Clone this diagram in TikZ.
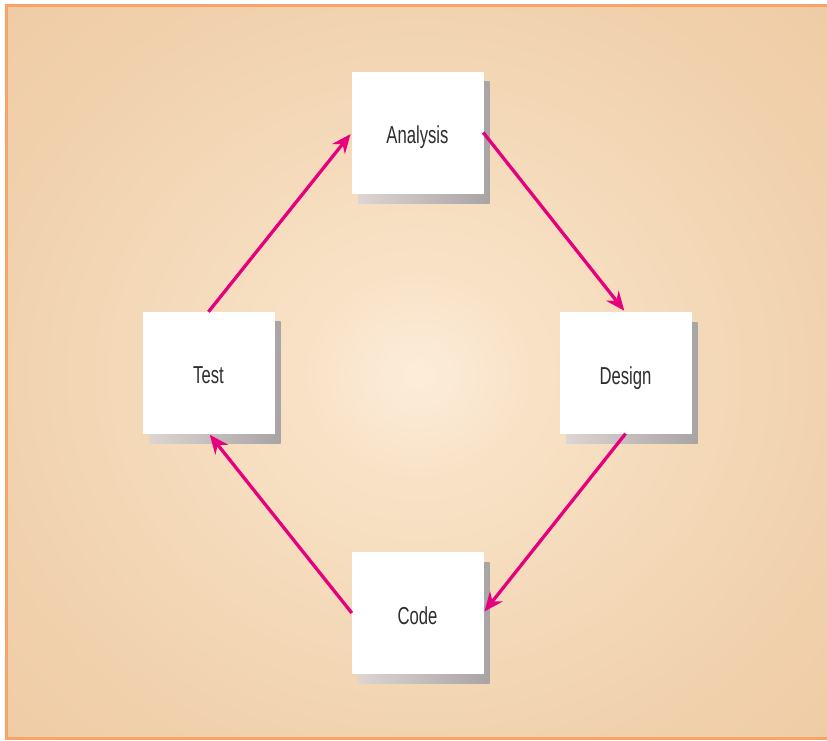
\documentclass[tikz,border=0pt]{standalone}
\usepackage{fontspec}
\setmainfont{Liberation Sans}
\usetikzlibrary{arrows.meta}
\definecolor{bgA}{HTML}{FCEDDA}
\definecolor{bgB}{HTML}{F8E2C6}
\definecolor{bgC}{HTML}{F1D2AE}
\definecolor{bgE}{HTML}{EAC398}
\definecolor{bgD}{HTML}{E2B483}
\definecolor{framec}{HTML}{F7A36A}
\definecolor{shL}{HTML}{DCD5D2}
\definecolor{shR}{HTML}{A8A4A4}
\definecolor{mag}{HTML}{E6007E}
\definecolor{txt}{HTML}{2E2E2E}
\pgfdeclareradialshading{bgshade}{\pgfpoint{0bp}{0bp}}{color(0bp)=(bgA); color(5bp)=(bgB); color(18bp)=(bgC); color(35bp)=(bgE); color(50bp)=(bgD)}
\pgfdeclarelayer{bglayer}
\pgfdeclarelayer{shlayer}
\pgfsetlayers{bglayer,shlayer,main}
\newcommand{\boxtext}[1]{\scalebox{0.68}[1]{#1}}
\tikzset{
  stagebox/.style={fill=white, draw=white, line width=0.4pt, minimum width=131pt, minimum height=121pt, inner sep=0pt, text=txt, text height=22pt, text depth=0pt, font=\fontsize{24.5}{28}\selectfont},
  flowarrow/.style={draw=mag, line width=3.3pt, -{Stealth[length=19pt,width=16pt]}, shorten >=2pt},
  boxshadow/.style={left color=shL, right color=shR}
}
\begin{document}
\begin{tikzpicture}[x=1pt,y=-1pt]
\useasboundingbox (0,0) rectangle (827,741);
\begin{pgfonlayer}{bglayer}
\fill[white] (0,0) rectangle (827,741);
\begin{scope}
\clip (6,6) rectangle (830,738);
\shade[shading=bgshade] (-162,-155) rectangle (998,905);
\end{scope}
\draw[framec, line width=3pt] (830,6) -- (6,6) -- (6,738) -- (830,738);
\end{pgfonlayer}

\node[stagebox] (analysis) at (417.5,132.5) {\boxtext{Analysis}};
\node[stagebox] (design) at (625.5,373) {\boxtext{Design}};
\node[stagebox] (code) at (417.5,613) {\boxtext{Code}};
\node[stagebox] (test) at (208.5,372.5) {\boxtext{Test}};

\begin{pgfonlayer}{shlayer}
\foreach \n in {analysis,design,code,test}{
  \shade[boxshadow] ([shift={(6.5,10)}]\n.south west) rectangle ([shift={(6.5,10)}]\n.north east);
}
\end{pgfonlayer}

\draw[flowarrow] (test.north) -- (analysis.west);
\draw[flowarrow] (analysis.east) -- (design.north);
\draw[flowarrow] (design.south) -- (code.east);
\draw[flowarrow] (code.west) -- (test.south);
\end{tikzpicture}
\end{document}
